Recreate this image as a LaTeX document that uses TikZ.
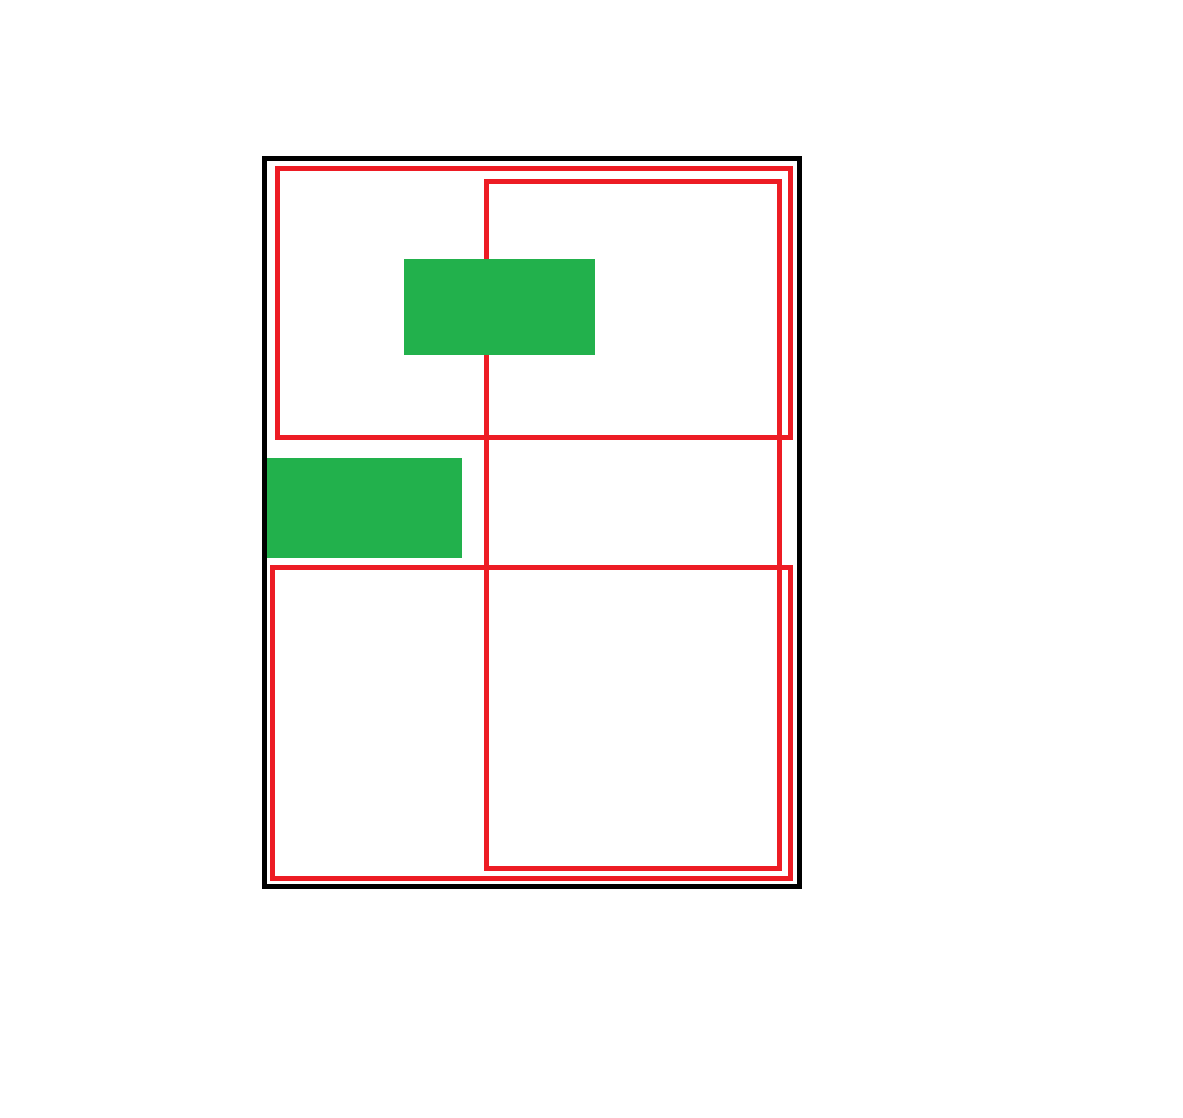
\documentclass[tikz,border=0pt]{standalone}
\definecolor{pgreen}{RGB}{34,177,76}
\definecolor{pred}{RGB}{237,28,36}
\tikzset{
  frame/.style={draw=black,line width=4.8pt},
  redbox/.style={draw=pred,line width=4.7pt},
  greenbox/.style={fill=pgreen,draw=none}
}
\begin{document}
\begin{tikzpicture}[x=1pt,y=-1pt]
\useasboundingbox (0,0) rectangle (1183,1117);
\draw[frame] (264.5,158.5) rectangle (799.5,886.3);
\draw[redbox] (277.5,168.5) rectangle (790.3,437.3);
\draw[redbox] (486.7,181.5) rectangle (779.7,868.3);
\draw[redbox] (272.5,567.5) rectangle (790.3,878.2);
\fill[greenbox] (404,259) rectangle (595,355);
\fill[greenbox] (267,458) rectangle (462,557.7);
\end{tikzpicture}
\end{document}
